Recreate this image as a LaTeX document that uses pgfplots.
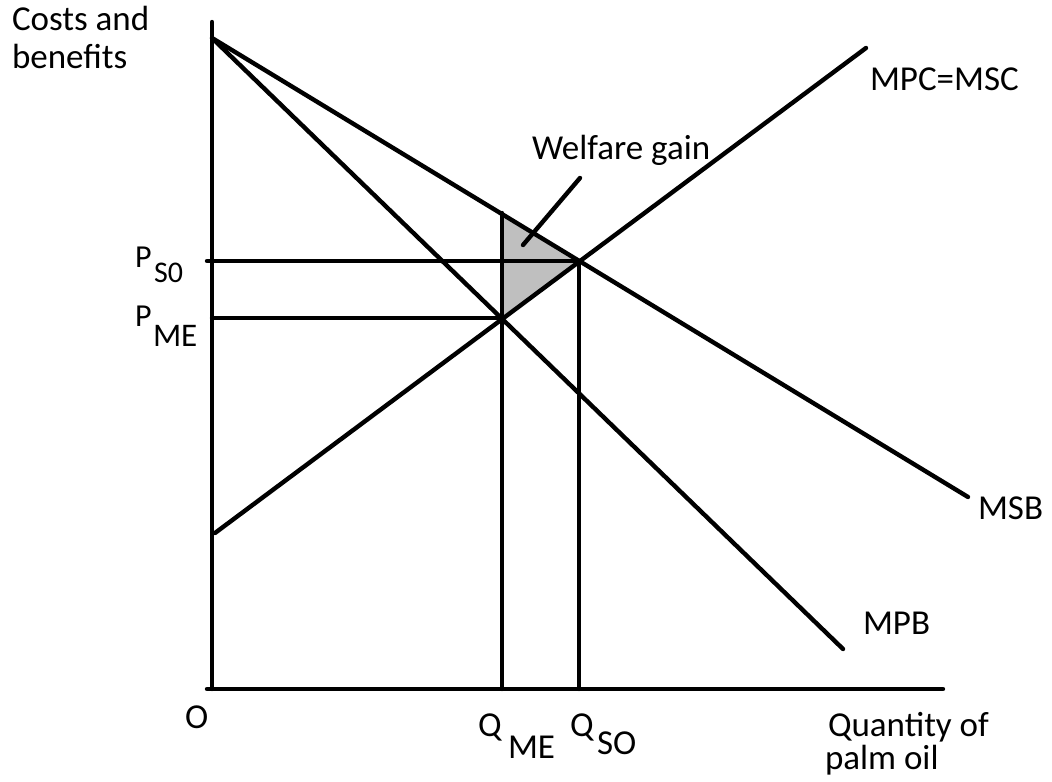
\documentclass[border=0pt]{standalone}
\usepackage{fontspec}
\setmainfont{Carlito}
\usepackage{pgfplots}
\pgfplotsset{compat=1.18}
\begin{document}
\begin{tikzpicture}[
  lbl/.style={anchor=base west, inner sep=0pt, outer sep=0pt, font=\fontsize{35bp}{40bp}\selectfont},
  ln/.style={black, line width=4.4bp, line cap=round, mark=none},
]
\begin{axis}[
  name=ax,
  hide axis,
  scale only axis,
  width=1052bp, height=782bp,
  xmin=0, xmax=1052, ymin=0, ymax=782,
  clip=false,
]
% welfare gain triangle
\addplot[fill=black!25, draw=none] coordinates {(502,569) (579,521) (502,464)} -- cycle;
% axes
\addplot[ln] coordinates {(212,760) (212,93)};
\addplot[ln] coordinates {(207,93) (943,93)};
% curves
\addplot[ln] coordinates {(212,744) (968,285)}; % MSB
\addplot[ln] coordinates {(212,744) (843,133)}; % MPB
\addplot[ln] coordinates {(215,249) (866,734)}; % MPC=MSC
% guide lines
\addplot[ln] coordinates {(502,93) (502,569)};
\addplot[ln] coordinates {(579,93) (579,521)};
\addplot[ln] coordinates {(207,521) (579,521)};
\addplot[ln] coordinates {(212,464) (502,464)};
% pointer
\addplot[ln] coordinates {(523,537) (580,604)};
% labels
\node[lbl] at (axis cs:12,751) {Costs and};
\node[lbl] at (axis cs:12,713) {benefits};
\node[lbl, font=\fontsize{32bp}{36bp}\selectfont] at (axis cs:135,514) {P};
\node[lbl, font=\fontsize{30bp}{34bp}\selectfont] at (axis cs:154,499) {S0};
\node[lbl, font=\fontsize{32bp}{36bp}\selectfont] at (axis cs:135,455) {P};
\node[lbl, font=\fontsize{33bp}{36bp}\selectfont] at (axis cs:153,435) {ME};
\node[lbl] at (axis cs:185,53) {O};
\node[lbl] at (axis cs:478,45) {Q};
\node[lbl] at (axis cs:508,23) {ME};
\node[lbl] at (axis cs:570,45) {Q};
\node[lbl] at (axis cs:597,27) {SO};
\node[lbl] at (axis cs:828,45) {Quantity of};
\node[lbl] at (axis cs:825,12) {palm oil};
\node[lbl] at (axis cs:978,262) {MSB};
\node[lbl] at (axis cs:863,147) {MPB};
\node[lbl] at (axis cs:870,691) {MPC=MSC};
\node[lbl] at (axis cs:532,622) {Welfare gain};
\end{axis}
\pgfresetboundingbox
\path[use as bounding box] (ax.south west) rectangle (ax.north east);
\end{tikzpicture}
\end{document}
